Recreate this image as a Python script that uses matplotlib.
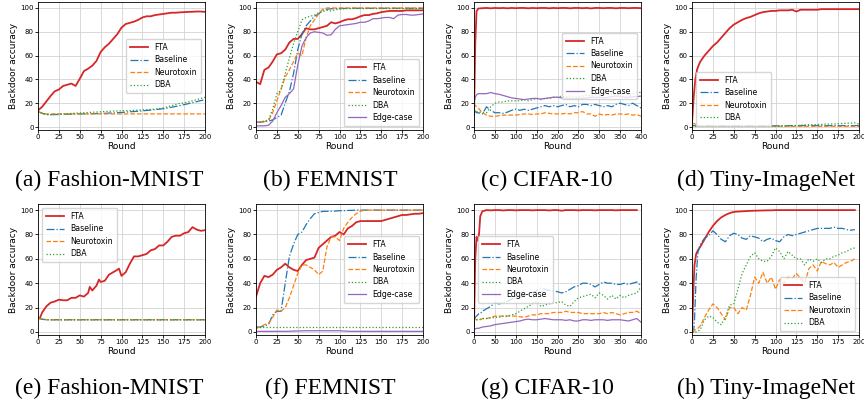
import matplotlib
matplotlib.use("Agg")
import matplotlib.pyplot as plt

# ---------------- data ----------------
labels = ["FTA", "Baseline", "Neurotoxin", "DBA", "Edge-case"]
captions = ["(a) Fashion-MNIST", "(b) FEMNIST", "(c) CIFAR-10", "(d) Tiny-ImageNet",
            "(e) Fashion-MNIST", "(f) FEMNIST", "(g) CIFAR-10", "(h) Tiny-ImageNet"]

# (a) Fashion-MNIST
x_a = list(range(0, 201, 5))
fta_a = [14, 17, 21.5, 26, 30, 31.5, 34.5, 35.5, 36.5, 34.5, 40.5, 47, 49, 51.5, 55.5, 63, 67, 70, 74, 78,
         83.5, 86.5, 87.5, 88.5, 90, 92, 93, 93, 94, 94.5, 95, 95.5, 96, 96, 96.3, 96.5, 96.7, 96.8, 97, 97, 96.7]
base_a = [13, 11.5, 10.5, 10.3, 10.5, 10.5, 10.6, 10.7, 10.8, 10.9, 11, 11, 11.1, 11.2, 11.3, 11.4, 11.5, 11.7,
          11.8, 12, 12.2, 12.5, 12.8, 13, 13.3, 13.6, 13.9, 14.2, 14.6, 15, 15.4, 16, 16.6, 17.3, 18, 18.8,
          19.6, 20.4, 21.3, 22.2, 23]
neuro_a = [13, 11.5, 11, 11, 11, 11, 11, 11, 11, 11, 11, 11, 11, 11, 11, 11, 11, 11, 11, 11, 11, 11, 11, 11,
           11, 11, 11, 11, 11, 11, 11, 11, 11, 11, 11, 11, 11, 11, 11, 11, 11]
dba_a = [14, 11.5, 10.5, 10.4, 10.6, 10.8, 11, 11.2, 11.4, 11.6, 11.8, 12, 12.2, 12.4, 12.6, 12.8, 13, 13.2,
         13.4, 13.5, 13.6, 13.7, 13.8, 14, 14.2, 14.4, 14.6, 14.8, 15, 15.4, 16, 17, 18, 19, 19.8, 20.3, 21,
         22, 23, 24, 25]

# (b) FEMNIST
x_b = list(range(0, 201, 5))
fta_b = [38, 36, 48, 50, 55, 61, 62, 65, 71, 74, 74, 78, 83, 82, 82, 83, 84, 85, 88, 87, 88, 89.5, 90.5, 90.5,
         91.5, 93, 94, 94, 95, 95.5, 96.5, 97, 97.5, 97.5, 97.5, 97.5, 98, 98, 98, 98, 98]
base_b = [4, 4, 4.5, 5, 6, 8, 10, 20, 30, 45, 65, 78, 85, 89, 93, 95, 98, 99, 99.3, 99.5, 99.5, 99.6, 99.6,
          99.7, 99.7, 99.7, 99.7, 99.7, 99.7, 99.7, 99.7, 99.7, 99.7, 99.7, 99.7, 99.7, 99.7, 99.7, 99.7,
          99.7, 99.7]
neuro_b = [4, 4, 4.5, 5.5, 12, 22, 32, 42, 48, 55, 62, 60, 75, 85, 90, 95, 99, 100, 100, 100, 100, 100, 100,
           100, 100, 100, 100, 100, 100, 100, 100, 100, 100, 100, 100, 100, 100, 100, 100, 100, 100]
dba_b = [4, 4.5, 5, 6, 15, 28, 31, 45, 58, 70, 80, 90, 92, 93, 94, 96, 97, 98, 97.5, 98.5, 99, 99.3, 99.5,
         99.5, 99.5, 99.5, 99.5, 99.5, 99.5, 99.5, 99.5, 99.5, 99.5, 99.5, 99.5, 99.5, 99.5, 99.5, 99.5,
         99.5, 99.5]
edge_b = [1, 1, 1, 1.5, 5, 12, 18, 25, 28, 32, 52, 68, 75, 79, 80, 79.5, 79, 77, 77.5, 82, 85, 85.5, 86,
          86.5, 87, 88, 88, 89, 91, 91, 91.5, 92, 92, 91, 94, 94.5, 94.5, 94, 94, 94.5, 95]

# (c) CIFAR-10
x_c = [0, 3, 6] + list(range(10, 401, 10))
fta_c = [10, 70, 97, 99.5, 99.8, 100, 99.7, 100, 99.8, 100, 99.7, 100, 99.8, 100, 100, 99.7, 100, 99.8, 100,
         100, 99.7, 100, 99.8, 100, 100, 99.7, 100, 100, 99.8, 100, 99.6, 100, 100, 99.8, 100, 100, 99.7,
         100, 100, 99.8, 100, 100, 99.8]
base_c = [15, 13, 12, 12, 11, 17, 14, 12, 12, 11.5, 12.5, 14, 15, 14, 15, 14, 15, 16, 17, 18, 17, 18, 17,
          18, 19, 17, 18, 17, 19, 19, 18, 19, 18, 17, 18, 17, 19, 20, 19, 18, 20, 18, 16]
neuro_c = [20, 18, 17, 16, 12, 10, 9, 9, 9.5, 10, 10, 10, 10, 10.5, 11, 11, 10.5, 11, 11, 12, 11.5, 11, 11,
           11, 11.5, 11, 12, 12, 13, 11, 11, 9, 11, 10, 10.5, 10, 11, 11, 10.5, 11, 10, 10.5, 9]
dba_c = [15, 14, 13, 13, 12, 12, 17, 20, 21, 21, 22, 22, 22, 22, 23, 22, 23, 24, 23, 24, 24, 25, 25, 26,
         25, 26, 25, 25, 26, 27, 26, 27, 27, 28, 27, 28, 27, 28, 29, 27, 28, 29, 29]
edge_c = [20, 25, 27, 28, 28, 28, 29, 28, 27.5, 26.5, 25.5, 24.5, 24, 23.5, 23, 23.5, 24, 24, 23.5, 24,
          24.5, 25, 25, 24.5, 24, 24, 23.5, 24, 24, 24.5, 25, 25, 25, 24.5, 25, 25.5, 26, 26, 25, 25, 25.5,
          25.5, 26]

# (d) Tiny-ImageNet
x_d = [0, 2, 4, 6, 8, 10] + list(range(15, 201, 5))
fta_d = [3, 25, 40, 48, 52, 55, 60, 64, 68, 71, 75, 79, 83, 86, 88, 90, 91.5, 92.5, 94, 95.5, 96.5, 97, 97.5,
         97.5, 98, 98, 98, 98.5, 97, 98.5, 98.5, 98.5, 98.5, 98.5, 99, 99, 99, 99, 99, 99, 99, 99, 99, 99]
base_d = [1.5, 1.2, 1, 1, 1, 1, 1, 1, 1, 1, 1, 1, 1, 1, 1, 1, 1, 1, 1, 1, 1, 1, 1, 1, 1, 1, 1, 1.2, 1.2,
          1.2, 1.2, 1.2, 1.2, 1.2, 1.2, 1.2, 1.2, 1.2, 1.2, 1.2, 1.2, 1.2, 1.2, 1.2]
neuro_d = [3, 3, 2.5, 2, 1.5, 1, 0.6, 0.6, 0.6, 0.6, 0.6, 0.6, 0.6, 0.6, 0.6, 0.6, 0.6, 0.6, 0.6, 0.6, 0.6,
           0.6, 0.6, 0.6, 0.6, 0.6, 0.6, 0.6, 0.6, 0.6, 0.6, 0.6, 0.6, 0.6, 0.6, 0.6, 0.6, 0.6, 0.6, 0.6,
           0.6, 0.6, 0.6, 0.6]
dba_d = [0.5, 0.5, 0.5, 0.5, 0.5, 0.5, 0.5, 0.5, 0.5, 0.5, 0.5, 0.5, 0.5, 0.5, 0.5, 0.5, 0.5, 0.5, 0.5, 0.5,
         0.5, 0.5, 0.5, 0.6, 0.8, 0.9, 1, 1.1, 1.2, 1.5, 1.8, 1.9, 2, 2.1, 2.2, 2.4, 2.5, 2.6, 2.8, 3, 3.2,
         3.3, 3.5, 2.5]

# (e) Fashion-MNIST
x_e = [0, 2, 5, 10, 15, 20, 25, 30, 35, 40, 45, 50, 55, 60, 62, 65, 70, 73, 75, 80, 85, 90, 95, 97, 100,
       105, 110, 115, 120, 125, 130, 135, 140, 145, 150, 155, 160, 165, 170, 175, 180, 185, 190, 195, 200]
fta_e = [12, 11, 16, 21, 24, 25, 26.5, 26, 26, 28, 28, 30, 29, 32, 37, 34, 38, 43, 41, 42, 47, 49, 51, 52,
         46, 49, 56, 62, 62, 63, 64, 67, 68, 71, 71, 74, 78, 79, 79, 81, 82, 86, 84, 83, 83.5]
base_e = [12, 11, 10.5, 10, 10, 10, 10, 10, 10, 10, 10, 10, 10, 10, 10, 10, 10, 10, 10, 10, 10, 10, 10, 10,
          10, 10, 10, 10, 10, 10, 10, 10, 10, 10, 10, 10, 10, 10, 10, 10, 10, 10, 10, 10, 10]
neuro_e = [12, 11, 10.5, 10, 10, 10, 10, 10, 10, 10, 10, 10, 10, 10, 10, 10, 10, 10, 10, 10, 10, 10, 10, 10,
           10, 10, 10, 10, 10, 10, 10, 10, 10, 10, 10, 10, 10, 10, 10, 10, 10, 10, 10, 10, 10]
dba_e = [12, 11, 10.5, 10, 10, 10, 10, 10, 10, 10, 10, 10, 10, 10, 10, 10, 10, 10, 10, 10, 10, 10, 10, 10,
         10, 10, 10, 10, 10, 10, 10, 10, 10, 10, 10, 10, 10, 10, 10, 10, 10, 10, 10, 10, 10]

# (f) FEMNIST
x_f = list(range(0, 201, 5))
fta_f = [29, 40, 46, 45, 47, 51, 53, 56, 53, 51, 50, 55, 59, 60, 61, 69, 72, 75, 78, 79, 82, 80, 85, 87, 90,
         91, 91, 91, 91, 91, 91, 92, 93, 94, 95, 96, 96, 96.5, 97, 97, 97.5]
base_f = [4, 4, 5, 6, 14, 17, 17, 40, 62, 72, 80, 82, 88, 93, 97, 98, 99, 99, 99, 99.2, 99.5, 99.5, 99.7,
          99.8, 100, 100, 100, 100, 100, 100, 100, 100, 100, 100, 100, 100, 100, 100, 100, 100, 100]
neuro_f = [3, 4, 6, 7, 12, 18, 17, 20, 28, 38, 48, 55, 55, 53, 51, 47, 50, 70, 78, 78, 75, 85, 90, 94, 97,
           99, 100, 100, 100, 100, 100, 100, 100, 100, 100, 100, 100, 100, 100, 100, 100]
dba_f = [4, 4, 4, 4, 4, 4, 4, 4, 4, 4, 4, 4, 4, 4, 4, 4, 4, 4, 4, 4, 4, 4, 4, 4, 4, 4, 4, 4, 4, 4, 4, 4, 4,
         4, 4, 4, 4, 4, 4, 4, 4]
edge_f = [0.5, 0.5, 0.5, 0.5, 0.5, 0.5, 0.5, 0.5, 0.6, 0.7, 0.8, 0.9, 1, 1, 1, 1, 1, 1, 1, 1, 1, 0.8, 0.6,
          0.5, 0.5, 0.5, 0.5, 0.5, 0.5, 0.5, 0.5, 0.5, 0.5, 0.5, 0.5, 0.5, 0.5, 0.5, 0.5, 0.5, 0.5]

# (g) CIFAR-10
x_g = [0, 3, 6, 9, 12, 15, 20] + list(range(30, 401, 10))
fta_g = [5, 60, 78, 75, 80, 95, 99, 100, 99.8, 100, 100, 99.7, 100, 100, 99.8, 100, 100, 100, 99.8, 100, 100,
         100, 99.7, 100, 100, 99.5, 100, 100, 100, 99.8, 100, 100, 100, 99.8, 100, 100, 100, 100, 99.8, 100,
         100, 100, 100, 100]
base_g = [10, 12, 13, 14, 15, 15, 17, 19, 21, 24, 23, 24, 25, 27, 28, 28, 30, 31, 32, 34, 36, 35, 34, 34, 33,
          32, 33, 35, 37, 38, 40, 40, 39, 37, 39, 41, 40, 40, 39, 39, 40, 39, 40, 41, 38]
neuro_g = [12, 11, 10, 10, 10, 10, 11, 11, 12, 13, 13, 13, 13, 13, 13, 12.5, 12, 13, 14, 14, 15, 15, 15, 16,
           16, 16, 17, 16, 16, 16, 15, 15, 15, 15, 15, 16, 15, 16, 15, 14, 15, 16, 16, 17, 15]
dba_g = [12, 11, 10, 10, 10, 10.5, 11, 11, 11.5, 12, 12, 13, 13, 14, 15, 17, 19, 21, 23, 25, 21, 22, 23, 24,
         24, 25, 22, 21, 25, 28, 29, 30, 31, 28, 32, 30, 27, 30, 27, 30, 28, 30, 31, 32, 37]
edge_g = [2, 2.5, 3, 3, 3, 3.5, 4, 4.5, 5, 6, 6.5, 7, 7.5, 8, 8.5, 9, 10, 10.5, 10, 10, 10.5, 11, 10.5, 10,
          10, 10, 9.5, 10, 9, 9, 10, 10, 9.5, 10, 10, 10, 9.5, 10, 10, 10, 9.5, 9, 10, 11, 8]

# (h) Tiny-ImageNet
x_h = [0, 1, 2, 3, 5, 7, 10] + list(range(15, 201, 5))
fta_h = [0, 20, 40, 55, 64, 67, 70, 76, 82, 87, 91, 94, 96, 97.5, 98.5, 98.8, 99, 99.2, 99.4, 99.5, 99.6,
         99.7, 99.8, 99.8, 100, 100, 100, 100, 100, 100, 100, 100, 100, 100, 100, 100, 100, 100, 100, 100,
         100, 100, 100, 100]
base_h = [0, 0, 0, 10, 45, 65, 72, 77, 79, 83, 80, 76, 74, 79, 81, 80, 77, 76, 79, 78, 77, 74, 76, 77, 75,
          74, 78, 80, 79, 80, 81, 82, 83, 84, 85, 85, 85, 85, 86, 85, 85, 84, 83.5, 84]
neuro_h = [0, 0.5, 1, 1.5, 2, 3, 5, 12, 18, 23, 20, 15, 10, 20, 20, 15, 20, 18, 30, 45, 40, 49, 40, 45, 35,
           43, 40, 45, 44, 48, 44, 40, 52, 55, 50, 58, 56, 55, 57, 53, 55, 57, 58, 60]
dba_h = [0, 0, 0, 0, 0, 0.5, 2, 10, 13, 12, 8, 6, 12, 22, 23, 35, 48, 55, 62, 65, 60, 58, 58, 62, 69, 66,
         60, 66, 63, 60, 60, 55, 60, 58, 60, 57, 60, 60, 62, 63, 65, 66, 68, 69]

# ---------------- drawing ----------------
colors = ["tab:red", "tab:blue", "tab:orange", "tab:green", "tab:purple"]
styles = ["-", "-.", "--", ":", "-"]
widths = [1.3, 0.9, 0.9, 0.9, 0.9]

panels = [
    (x_a, [fta_a, base_a, neuro_a, dba_a], 200, "center right"),
    (x_b, [fta_b, base_b, neuro_b, dba_b, edge_b], 200, "lower right"),
    (x_c, [fta_c, base_c, neuro_c, dba_c, edge_c], 400, "center right"),
    (x_d, [fta_d, base_d, neuro_d, dba_d], 200, "lower left"),
    (x_e, [fta_e, base_e, neuro_e, dba_e], 200, "upper left"),
    (x_f, [fta_f, base_f, neuro_f, dba_f, edge_f], 200, "center right"),
    (x_g, [fta_g, base_g, neuro_g, dba_g, edge_g], 400, "center left"),
    (x_h, [fta_h, base_h, neuro_h, dba_h], 200, "lower right"),
]

W, H = 864, 404
fig = plt.figure(figsize=(W / 100, H / 100), dpi=100)

lefts = [38, 256, 474, 692]
rows = [(2, 130), (204, 335)]          # top / bottom in pixels
cap_x = [109, 330, 547, 766]
cap_y = [180, 388]

for k, (xs, ys, xmax, loc) in enumerate(panels):
    row, col = divmod(k, 4)
    top, bot = rows[row]
    ax = fig.add_axes([lefts[col] / W, (H - bot) / H, 167 / W, (bot - top) / H])
    for i, y in enumerate(ys):
        ax.plot(xs[:len(y)], y, color=colors[i], ls=styles[i], lw=widths[i], label=labels[i])
    ax.set_xlim(0, xmax)
    ax.set_ylim(-2.5, 105)
    ax.set_yticks([0, 20, 40, 60, 80, 100])
    if xmax == 400:
        ax.set_xticks(range(0, 401, 50))
    else:
        ax.set_xticks(range(0, 201, 25))
    ax.grid(True, color="#d3d3d3", lw=0.6)
    ax.tick_params(labelsize=5.0, length=2, width=0.6, pad=1)
    for s in ax.spines.values():
        s.set_linewidth(0.6)
    ax.set_xlabel("Round", fontsize=6.5, labelpad=1)
    ax.set_ylabel("Backdoor accuracy", fontsize=6.5, labelpad=2)
    ax.legend(loc=loc, fontsize=5.6, handlelength=2.4, borderpad=0.5, labelspacing=0.45,
              handletextpad=0.8, framealpha=0.8, edgecolor="#cccccc", fancybox=True)
    fig.text(cap_x[col] / W, 1 - cap_y[row] / H, captions[k], ha="center", va="center",
             fontsize=17, family="Liberation Serif")

fig.savefig("out.png", dpi=100)
